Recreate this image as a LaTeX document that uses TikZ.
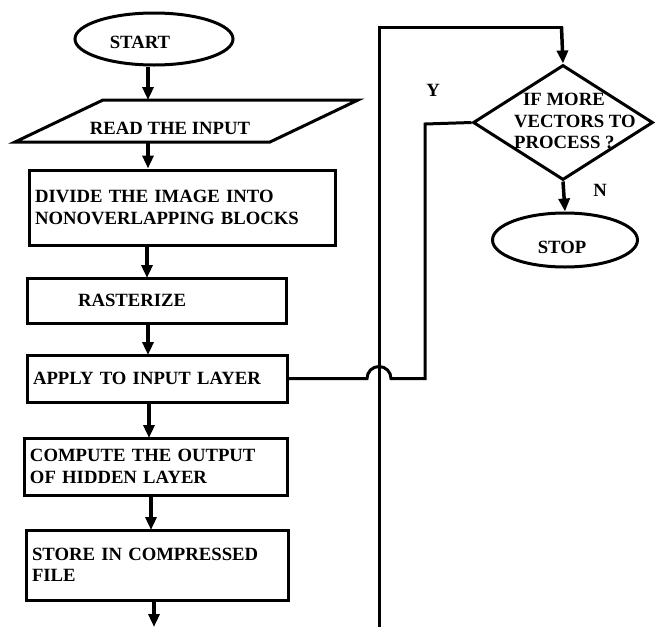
\documentclass[tikz,border=0pt]{standalone}
\usepackage{fontspec}
\setmainfont{Liberation Serif}
\usetikzlibrary{shapes.geometric,arrows.meta}
\tikzset{
  txt/.style={font=\fontsize{18.7}{21.5}\selectfont\bfseries, inner sep=0pt},
  box/.style={draw, line width=3pt, txt, inner sep=6pt, align=left},
  oval/.style={draw, ellipse, line width=3pt, inner sep=0pt},
  arr/.style={line width=3.5pt, -{Triangle[length=13pt,width=11pt]}},
  wire/.style={line width=3pt},
}
\begin{document}
\begin{tikzpicture}[x=1pt,y=-1pt]
\useasboundingbox (0,0) rectangle (662,627);
% start
\node[oval, minimum width=158pt, minimum height=52pt] (start) at (154,39) {};
\node[txt] (starttxt) at (140,42) {START};
% read
\draw[line width=3pt, line join=miter] (103,100) -- (358,100) -- (270,142) -- (15,142) -- cycle;
\coordinate (readtop) at (148,100);
\coordinate (readbot) at (148,142);
\node[txt] (readtxt) at (170,128) {READ THE INPUT};
% boxes
\node[box, minimum width=306pt, minimum height=75pt, text width=294pt] (divide) at (182,207.5) {DIVIDE THE IMAGE INTO\\NONOVERLAPPING BLOCKS};
\node[box, minimum width=259pt, minimum height=45pt, text width=247pt] (raster) at (156.5,300.5) {\hspace*{45pt}RASTERIZE};
\node[box, minimum width=260pt, minimum height=47pt, text width=248pt] (apply) at (157,378.5) {APPLY TO INPUT LAYER};
\node[box, minimum width=263pt, minimum height=57pt, text width=251pt] (compute) at (155.5,466.5) {COMPUTE THE OUTPUT\\OF HIDDEN LAYER};
\node[box, minimum width=262pt, minimum height=70pt, text width=250pt] (store) at (157,565) {STORE IN COMPRESSED\\FILE};
\coordinate (outend) at (154,627);
% decision
\node[draw, diamond, line width=3pt, inner sep=0pt, minimum width=180pt, minimum height=115pt] (dia) at (563,122.5) {};
\node[txt, anchor=west, align=left] (diatxt) at (514,121) {\hspace*{9pt}IF MORE\\VECTORS TO\\PROCESS ?};
\node[oval, minimum width=145pt, minimum height=54pt] (stop) at (565,240) {};
\node[txt] (stoptxt) at (562,247) {STOP};
\node[txt] (ylab) at (433,90) {Y};
\node[txt] (nlab) at (600,190) {N};
% loop coordinates
\coordinate (loopbot) at (379,627);
\coordinate (looptop) at (379,27);
\coordinate (loopright) at (563,27);
\coordinate (ybend) at (425,124);
% main arrows
\draw[arr] (start.south -| readtop) -- (readtop);
\draw[arr] (readbot) -- (readbot |- divide.north);
\draw[arr] (147,245) -- (147,278);
\draw[arr] (148,323) -- (148,355);
\draw[arr] (149,402) -- (149,438);
\draw[arr] (151,495) -- (151,530);
\draw[arr] (store.south -| outend) -- (outend);
% loop to decision
\draw[wire] (loopbot) -- (looptop) -- (loopright);
\draw[arr] ([xshift=-1.5pt]loopright) -- (dia.north);
% decision to stop
\draw[arr] (dia.south) -- (stop.north);
% yes loop back with jump
\draw[wire, line join=miter] (apply.east) -- (367,378.5) arc[start angle=180, end angle=360, radius=12] -- (ybend |- apply.east) -- (ybend) -- (dia.west);
\end{tikzpicture}
\end{document}
